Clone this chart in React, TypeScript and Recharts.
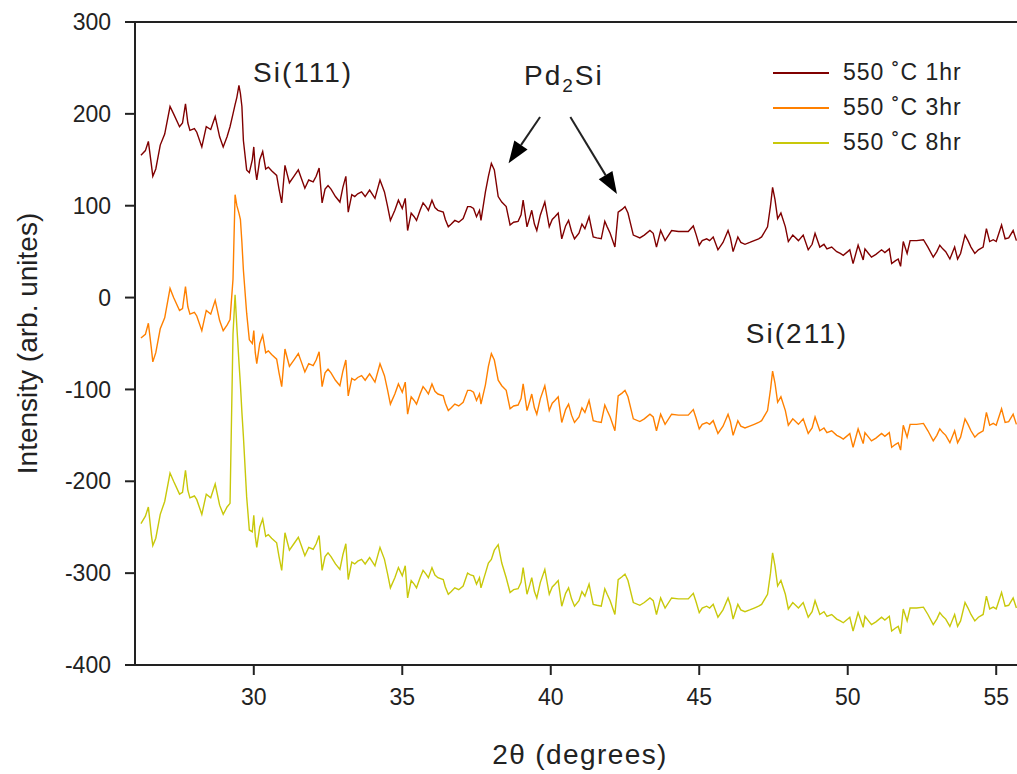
import { LineChart, Line, XAxis, YAxis, Legend, ReferenceLine, ReferenceDot } from 'recharts';

// 2θ positions (degrees)
const angles = [
  26.2, 26.35, 26.45, 26.55, 26.6, 26.7, 26.85, 27.0, 27.18, 27.3, 27.5, 27.6, 27.7, 27.78, 27.85, 28.0, 28.08, 28.25, 28.4, 28.55,
  28.7, 28.85, 28.97, 29.1, 29.2, 29.3, 29.37, 29.43, 29.5, 29.55, 29.6, 29.65, 29.76, 29.85, 29.95, 30.0, 30.05, 30.1, 30.2, 30.3,
  30.4, 30.49, 30.6, 30.77, 30.85, 30.94, 31.05, 31.12, 31.2, 31.35, 31.5, 31.6, 31.72, 31.85, 32.0, 32.1, 32.2, 32.3, 32.4, 32.5,
  32.6, 32.75, 32.9, 33.0, 33.1, 33.18, 33.3, 33.4, 33.5, 33.63, 33.75, 33.9, 34.0, 34.08, 34.25, 34.4, 34.5, 34.6, 34.75, 34.87,
  35.0, 35.1, 35.18, 35.3, 35.4, 35.48, 35.6, 35.7, 35.8, 35.88, 36.0, 36.1, 36.2, 36.38, 36.45, 36.55, 36.65, 36.77, 36.9, 37.05,
  37.2, 37.3, 37.4, 37.5, 37.6, 37.65, 37.8, 37.9, 38.0, 38.1, 38.23, 38.35, 38.5, 38.63, 38.75, 38.9, 39.0, 39.07, 39.2, 39.3,
  39.36, 39.45, 39.53, 39.65, 39.8, 39.95, 40.05, 40.14, 40.25, 40.37, 40.5, 40.6, 40.7, 40.8, 40.95, 41.05, 41.15, 41.29, 41.43, 41.55,
  41.7, 41.82, 41.9, 42.0, 42.16, 42.27, 42.4, 42.5, 42.6, 42.78, 43.0, 43.15, 43.34, 43.45, 43.56, 43.7, 43.85, 44.07, 44.3, 44.5,
  44.63, 44.8, 44.9, 45.0, 45.1, 45.25, 45.35, 45.47, 45.63, 45.8, 45.97, 46.05, 46.14, 46.3, 46.4, 46.54, 46.7, 46.85, 47.0, 47.1,
  47.3, 47.4, 47.47, 47.55, 47.64, 47.75, 47.9, 48.0, 48.15, 48.34, 48.5, 48.67, 48.8, 48.9, 49.06, 49.2, 49.3, 49.46, 49.63, 49.75,
  49.85, 50.0, 50.07, 50.18, 50.35, 50.52, 50.58, 50.7, 50.8, 50.95, 51.14, 51.25, 51.4, 51.48, 51.6, 51.7, 51.78, 51.87, 52.0, 52.1,
  52.32, 52.55, 52.7, 52.88, 53.0, 53.1, 53.2, 53.3, 53.44, 53.6, 53.7, 53.8, 53.95, 54.05, 54.15, 54.28, 54.4, 54.56, 54.67, 54.78,
  54.9, 55.0, 55.18, 55.3, 55.42, 55.57, 55.68,
];

const hr1 = [
  155, 160, 170, 145, 132, 140, 166, 178, 208, 200, 186, 190, 211, 190, 182, 184, 180, 164, 186, 183,
  197, 175, 164, 175, 186, 200, 210, 218, 231, 222, 208, 171, 139, 136, 150, 164, 140, 128, 150, 159,
  140, 142, 138, 133, 118, 103, 144, 135, 125, 132, 139, 130, 119, 128, 126, 132, 141, 103, 118, 122,
  118, 110, 104, 120, 132, 93, 112, 110, 113, 115, 110, 117, 112, 108, 128, 115, 100, 84, 95, 106,
  97, 108, 73, 92, 88, 84, 95, 103, 99, 95, 106, 98, 95, 93, 85, 77, 80, 84, 82, 86,
  99, 99, 97, 88, 95, 84, 115, 132, 146, 139, 110, 104, 99, 79, 82, 83, 90, 106, 77, 88,
  95, 80, 73, 90, 104, 77, 85, 88, 92, 64, 78, 84, 72, 64, 70, 80, 75, 88, 66, 65,
  64, 83, 77, 70, 55, 93, 96, 99, 92, 68, 65, 68, 73, 70, 55, 73, 62, 73, 72, 72,
  72, 78, 68, 57, 62, 64, 62, 66, 52, 60, 73, 65, 50, 66, 60, 58, 60, 62, 64, 66,
  77, 100, 120, 107, 86, 92, 77, 61, 68, 62, 68, 52, 58, 70, 55, 58, 53, 55, 50, 48,
  46, 50, 52, 37, 57, 41, 53, 48, 44, 47, 52, 49, 53, 37, 40, 42, 34, 61, 48, 62,
  62, 63, 55, 44, 50, 57, 53, 50, 42, 55, 42, 48, 68, 62, 55, 48, 52, 55, 75, 61,
  63, 61, 79, 64, 65, 73, 62,
];

const hr3 = [
  -44, -40, -28, -55, -70, -60, -34, -22, 10, 0, -14, -12, 12, -10, -18, -16, -20, -36, -14, -18,
  -3, -25, -36, -30, -24, 20, 112, 100, 92, 85, 60, 30, -17, -46, -50, -36, -60, -72, -50, -41,
  -60, -58, -62, -67, -82, -97, -56, -65, -75, -68, -61, -70, -81, -72, -74, -68, -59, -97, -82, -78,
  -82, -90, -96, -80, -68, -107, -88, -90, -87, -85, -90, -83, -88, -92, -72, -85, -100, -116, -105, -94,
  -103, -92, -127, -108, -112, -116, -105, -97, -101, -105, -94, -102, -105, -107, -115, -123, -120, -116, -118, -114,
  -101, -101, -103, -112, -105, -116, -95, -75, -61, -68, -90, -96, -101, -121, -118, -117, -110, -94, -123, -112,
  -105, -120, -127, -110, -96, -123, -115, -112, -108, -136, -122, -116, -128, -136, -130, -120, -125, -112, -134, -135,
  -136, -117, -123, -130, -145, -107, -104, -101, -108, -132, -135, -132, -127, -130, -145, -127, -138, -127, -128, -128,
  -128, -122, -132, -143, -138, -136, -138, -134, -148, -140, -127, -135, -150, -134, -140, -142, -140, -138, -136, -134,
  -123, -100, -80, -93, -114, -108, -123, -139, -132, -138, -132, -148, -142, -130, -145, -142, -147, -145, -150, -152,
  -154, -150, -148, -163, -143, -159, -147, -152, -156, -153, -148, -151, -147, -163, -160, -158, -166, -139, -152, -138,
  -138, -137, -145, -156, -150, -143, -147, -150, -158, -145, -158, -152, -132, -138, -145, -152, -148, -145, -125, -139,
  -137, -139, -121, -136, -135, -127, -138,
];

const hr8 = [
  -246, -238, -228, -258, -270, -262, -236, -222, -191, -200, -214, -212, -188, -210, -218, -216, -220, -236, -214, -218,
  -203, -226, -236, -228, -224, -40, 3, -32, -70, -95, -125, -151, -217, -253, -255, -237, -260, -272, -250, -241,
  -260, -258, -262, -267, -282, -297, -256, -265, -275, -268, -261, -270, -281, -272, -274, -268, -259, -297, -282, -278,
  -282, -290, -296, -280, -268, -307, -288, -290, -287, -285, -290, -283, -288, -292, -272, -285, -300, -316, -305, -294,
  -303, -292, -327, -308, -312, -316, -305, -297, -301, -305, -294, -302, -305, -307, -315, -323, -320, -316, -318, -314,
  -300, -302, -303, -312, -305, -316, -300, -289, -285, -275, -269, -289, -305, -321, -318, -317, -310, -294, -323, -312,
  -305, -320, -327, -310, -296, -323, -315, -312, -308, -336, -322, -316, -328, -336, -330, -320, -325, -312, -334, -335,
  -336, -317, -323, -330, -345, -307, -304, -301, -308, -332, -335, -332, -327, -330, -345, -327, -338, -327, -328, -328,
  -328, -322, -332, -343, -338, -336, -338, -334, -348, -340, -327, -335, -350, -334, -340, -342, -340, -338, -336, -334,
  -323, -300, -278, -292, -314, -308, -323, -339, -332, -338, -332, -348, -342, -330, -345, -342, -347, -345, -350, -352,
  -354, -350, -348, -363, -343, -359, -347, -352, -356, -353, -348, -351, -347, -363, -360, -358, -366, -339, -352, -338,
  -338, -337, -345, -356, -350, -343, -347, -350, -358, -345, -358, -352, -332, -338, -345, -352, -348, -345, -325, -339,
  -337, -339, -321, -336, -335, -327, -338,
];

const xTicks = [30, 35, 40, 45, 50, 55];
const yTicks = [-400, -300, -200, -100, 0, 100, 200, 300];
const seriesKeys = ['hr1', 'hr3', 'hr8'];
const seriesNames = ['550 ˚C 1hr', '550 ˚C 3hr', '550 ˚C 8hr'];
const seriesColors = ['#800000', '#ff8000', '#c8c80a'];

const data = angles.map((a, i) => ({ angle: a, hr1: hr1[i], hr3: hr3[i], hr8: hr8[i] }));

const FONT = '"Liberation Sans", Arial, sans-serif';
const INK = '#222';

function Arrow(props: any) {
  const { x1, y1, x2, y2 } = props;
  const dx = x2 - x1;
  const dy = y2 - y1;
  const len = Math.sqrt(dx * dx + dy * dy);
  const ux = dx / len;
  const uy = dy / len;
  const head = 22;
  const half = 8;
  const bx = x2 - ux * head;
  const by = y2 - uy * head;
  return (
    <g>
      <line x1={x1} y1={y1} x2={bx} y2={by} stroke={INK} strokeWidth={2} />
      <polygon
        points={`${x2},${y2} ${bx - uy * half},${by + ux * half} ${bx + uy * half},${by - ux * half}`}
        fill="#000"
      />
    </g>
  );
}

function LegendBox() {
  return (
    <div style={{ fontFamily: FONT, fontSize: 23, color: INK, letterSpacing: 1 }}>
      {seriesNames.map((name, i) => (
        <div key={name} style={{ display: 'flex', alignItems: 'center', height: 35 }}>
          <svg width={56} height={4} style={{ marginRight: 14 }}>
            <line x1={0} y1={2} x2={56} y2={2} stroke={seriesColors[i]} strokeWidth={2} />
          </svg>
          <span>{name}</span>
        </div>
      ))}
    </div>
  );
}

function Note({ cx, cy, children }: any) {
  return (
    <text x={cx} y={cy} textAnchor="middle" fill={INK} fontSize={28} fontFamily={FONT} letterSpacing={2}>
      {children}
    </text>
  );
}

export default function App() {
  return (
    <div style={{ position: 'absolute', left: 0, top: 0, width: 1017, height: 774, background: '#fff' }}>
      <LineChart width={1017} height={774} data={data} margin={{ top: 22, right: 0, bottom: 0, left: 0 }}>
        <XAxis
          dataKey="angle"
          type="number"
          domain={[26, 55.7]}
          allowDataOverflow
          ticks={xTicks}
          height={109}
          stroke={INK}
          strokeWidth={2}
          tickSize={10}
          tickMargin={14}
          tick={{ fill: INK, fontSize: 23, fontFamily: FONT }}
          label={{
            value: '2θ (degrees)',
            position: 'insideBottom',
            offset: 10,
            fill: INK,
            fontSize: 28,
            fontFamily: FONT,
            letterSpacing: 1.4,
            dx: 4,
          }}
        />
        <YAxis
          type="number"
          domain={[-400, 300]}
          ticks={yTicks}
          width={135}
          stroke={INK}
          strokeWidth={2}
          tickSize={10}
          tickMargin={14}
          tick={{ fill: INK, fontSize: 23, fontFamily: FONT }}
          label={{
            value: 'Intensity (arb. unites)',
            angle: -90,
            position: 'insideLeft',
            offset: 27,
            fill: INK,
            fontSize: 28,
            fontFamily: FONT,
            style: { textAnchor: 'middle' },
          }}
        />
        <ReferenceLine y={300} stroke={INK} strokeWidth={2} ifOverflow="visible" />
        {seriesKeys.map((k, i) => (
          <Line
            key={k}
            dataKey={k}
            name={seriesNames[i]}
            stroke={seriesColors[i]}
            strokeWidth={1.4}
            dot={false}
            type="linear"
            isAnimationActive={false}
          />
        ))}
        <ReferenceLine segment={[{ x: 39.64, y: 196.6 }, { x: 38.58, y: 146.2 }]} shape={Arrow} />
        <ReferenceLine segment={[{ x: 40.66, y: 196.6 }, { x: 42.23, y: 112.8 }]} shape={Arrow} />
        <ReferenceDot x={31.66} y={234.7} r={0} shape={(p: any) => <Note cx={p.cx} cy={p.cy}>Si(111)</Note>} />
        <ReferenceDot
          x={40.44}
          y={231.4}
          r={0}
          shape={(p: any) => (
            <Note cx={p.cx} cy={p.cy}>
              Pd<tspan fontSize={19} dy={7}>2</tspan>
              <tspan dy={-7}>Si</tspan>
            </Note>
          )}
        />
        <ReferenceDot x={48.29} y={-49.8} r={0} shape={(p: any) => <Note cx={p.cx} cy={p.cy}>Si(211)</Note>} />
        <Legend
          layout="vertical"
          align="center"
          verticalAlign="middle"
          content={() => <LegendBox />}
          wrapperStyle={{ top: 55, left: 773, width: 240 }}
        />
      </LineChart>
    </div>
  );
}
